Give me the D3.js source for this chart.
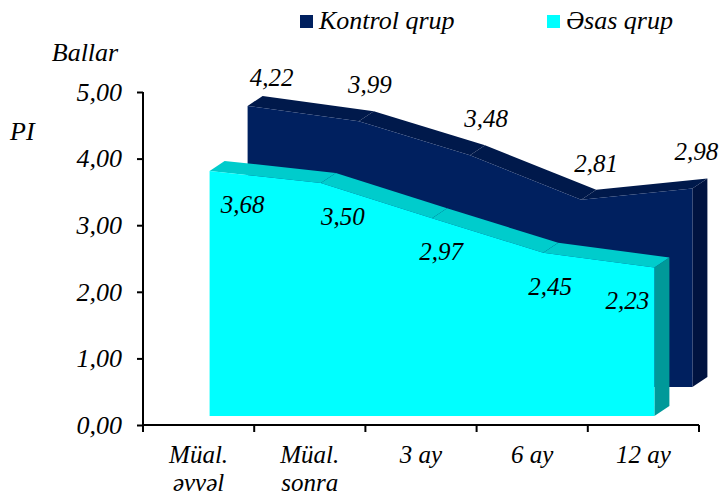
<!DOCTYPE html>
<html><head><meta charset="utf-8">
<script src="https://cdn.jsdelivr.net/npm/d3@7"></script>
</head>
<body style="margin:0;background:#fff">
<svg id="chart" width="724" height="498"></svg>
<script>
const categories = ["Müal.\nəvvəl", "Müal.\nsonra", "3 ay", "6 ay", "12 ay"];
const kontrolValues = [4.22, 3.99, 3.48, 2.81, 2.98];
const esasValues = [3.68, 3.50, 2.97, 2.45, 2.23];
const yTickValues = [0, 1, 2, 3, 4, 5];
const seriesNames = ["Kontrol qrup", "Əsas qrup"];
// label nudges (px) to mimic the reference label placement
const kontrolLabelDx = [24, 11, 16, 15, 4];
const kontrolLabelDy = [8, 0, 0, 0, 0];
const esasLabelDx = [33, 22, 9, 7, -27];

const FONT = "Liberation Serif";
const svg = d3.select("#chart");
const fmt = v => d3.format(".2f")(v).replace(".", ",");
const styleText = sel => sel.attr("font-family", FONT).attr("font-style", "italic").attr("fill", "#000");

const y = d3.scaleLinear().domain([0, 5]).range([425, 92]);
const x = d3.scaleBand().domain(categories).range([143, 699]);
const xc = c => x(c) + x.bandwidth() / 2;

const depth = [15, -10];

function drawSeries(values, off, colors) {
  const g = svg.append("g");
  const pts = values.map((v, i) => [xc(categories[i]) + off[0], y(v) + off[1]]);
  const base = y(0) + off[1];
  const shift = p => [p[0] + depth[0], p[1] + depth[1]];
  const line = d3.line();
  const last = pts[pts.length - 1];
  g.append("path")
    .attr("d", line([last, shift(last), shift([last[0], base]), [last[0], base]]) + "Z")
    .attr("fill", colors.side);
  for (let i = 0; i < pts.length - 1; i++) {
    g.append("path")
      .attr("d", line([pts[i], pts[i + 1], shift(pts[i + 1]), shift(pts[i])]) + "Z")
      .attr("fill", colors.top);
  }
  g.append("path")
    .attr("d", line([...pts, [last[0], base], [pts[0][0], base]]) + "Z")
    .attr("fill", colors.front);
  return pts;
}

const kPts = drawSeries(kontrolValues, [49, -38], {front: "#00205F", top: "#00194B", side: "#001340"});
const ePts = drawSeries(esasValues, [11, -9], {front: "#00FFFF", top: "#00CCCC", side: "#009999"});

const yAxis = d3.axisLeft(y).tickValues(yTickValues).tickFormat(fmt).tickSize(6).tickPadding(15);
const gy = svg.append("g").attr("transform", "translate(143,0)").call(yAxis)
  .attr("font-family", FONT).attr("font-size", 26);
gy.select(".domain").attr("stroke", "#000").attr("stroke-width", 2).attr("d", "M0," + y(5) + "V" + y(0));
gy.selectAll(".tick line").attr("stroke", "#000").attr("stroke-width", 2);
gy.selectAll(".tick text").call(styleText).attr("dy", "0.32em");

const xAxis = d3.axisBottom(x).tickSize(0).tickFormat("");
const gx = svg.append("g").attr("transform", "translate(0," + y(0) + ")").call(xAxis);
gx.select(".domain").attr("stroke", "#000").attr("stroke-width", 2).attr("d", "M143,0H699");
gx.selectAll(".tick").remove();
const bounds = categories.map(c => x(c)).concat([x(categories[categories.length - 1]) + x.bandwidth()]);
gx.selectAll("line.bt").data(bounds).enter().append("line")
  .attr("x1", d => d).attr("x2", d => d).attr("y1", 0).attr("y2", 7)
  .attr("stroke", "#000").attr("stroke-width", 2);

const catG = svg.append("g");
categories.forEach(c => {
  c.split("\n").forEach((l, k) => {
    catG.append("text").attr("x", xc(c)).attr("y", y(0) + 38 + k * 28)
      .attr("text-anchor", "middle").attr("font-size", 25).call(styleText).text(l);
  });
});

const lblG = svg.append("g");
kontrolValues.forEach((v, i) => {
  lblG.append("text").attr("x", kPts[i][0] + kontrolLabelDx[i]).attr("y", y(v) - 75 + kontrolLabelDy[i])
    .attr("dy", "0.35em").attr("text-anchor", "middle").attr("font-size", 25).call(styleText).text(fmt(v));
});
esasValues.forEach((v, i) => {
  lblG.append("text").attr("x", ePts[i][0] + esasLabelDx[i]).attr("y", y(v) + 24)
    .attr("dy", "0.35em").attr("text-anchor", "middle").attr("font-size", 25).call(styleText).text(fmt(v));
});

svg.append("text").attr("x", 85).attr("y", 61).attr("text-anchor", "middle").attr("font-size", 26).call(styleText).text("Ballar");
svg.append("text").attr("x", 10).attr("y", 140).attr("font-size", 26).call(styleText).text("PI");

const legend = [
  {name: seriesNames[0], color: "#00205F", x: 300},
  {name: seriesNames[1], color: "#00FFFF", x: 547}
];
legend.forEach(d => {
  svg.append("rect").attr("x", d.x).attr("y", 15).attr("width", 13).attr("height", 13).attr("fill", d.color);
  svg.append("text").attr("x", d.x + 19).attr("y", 29).attr("font-size", 26).call(styleText).text(d.name);
});
</script>
</body></html>
